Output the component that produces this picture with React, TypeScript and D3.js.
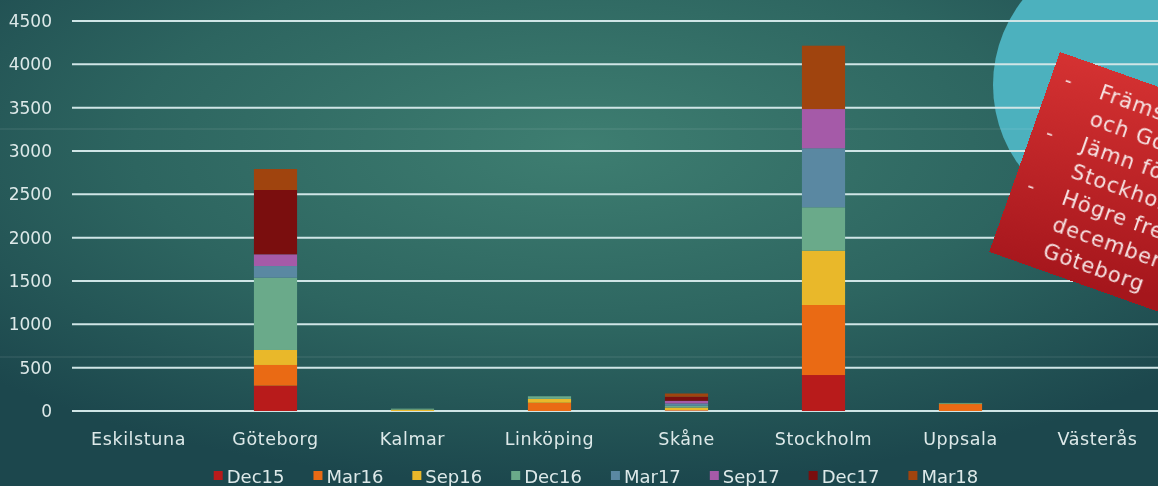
import React, { useEffect, useRef } from "react";
import * as d3 from "d3";

const categories = ["Eskilstuna", "Göteborg", "Kalmar", "Linköping", "Skåne", "Stockholm", "Uppsala", "Västerås"];
const seriesNames = ["Dec15", "Mar16", "Sep16", "Dec16", "Mar17", "Sep17", "Dec17", "Mar18"];
const dec15 = [0, 292, 0, 0, 5, 415, 0, 0];
const mar16 = [0, 239, 0, 95, 5, 808, 80, 0];
const sep16 = [0, 173, 15, 45, 30, 627, 5, 0];
const dec16 = [0, 834, 12, 30, 20, 500, 8, 0];
const mar17 = [0, 135, 0, 0, 27, 681, 0, 0];
const sep17 = [0, 135, 0, 0, 31, 453, 0, 0];
const dec17 = [0, 742, 0, 0, 46, 0, 0, 0];
const mar18 = [0, 242, 0, 0, 38, 731, 0, 0];
const seriesValues = [dec15, mar16, sep16, dec16, mar17, sep17, dec17, mar18];
const seriesColors = ["#b81b1b", "#ea6a14", "#e9b82a", "#6aaa8a", "#5a88a2", "#a55aa8", "#7a0e0e", "#a0440e"];
const yTicks = [0, 500, 1000, 1500, 2000, 2500, 3000, 3500, 4000, 4500];
const noteLines = [
  { bullet: true, text: "Främst Stockholm" },
  { bullet: false, text: "och Göteborg" },
  { bullet: true, text: "Jämn fördelning i" },
  { bullet: false, text: "Stockholm" },
  { bullet: true, text: "Högre frekvens" },
  { bullet: false, text: "december 2017 i" },
  { bullet: false, text: "Göteborg" },
];

const W = 1158;
const H = 486;
const FONT = "'DejaVu Sans', sans-serif";

export default function App() {
  const ref = useRef<SVGSVGElement | null>(null);

  useEffect(() => {
    const svg = d3.select(ref.current);
    svg.selectAll("*").remove();

    const defs = svg.append("defs");
    const bg = defs.append("radialGradient").attr("id", "bg").attr("cx", "50%").attr("cy", "30%").attr("r", "70%");
    bg.append("stop").attr("offset", "0%").attr("stop-color", "#3e7e71");
    bg.append("stop").attr("offset", "55%").attr("stop-color", "#2d6560");
    bg.append("stop").attr("offset", "100%").attr("stop-color", "#1c474d");
    const rg = defs.append("linearGradient").attr("id", "redbox").attr("x1", "0").attr("y1", "0").attr("x2", "0.3").attr("y2", "1");
    rg.append("stop").attr("offset", "0%").attr("stop-color", "#d53232");
    rg.append("stop").attr("offset", "100%").attr("stop-color", "#a5161c");

    svg.append("rect").attr("width", W).attr("height", H).attr("fill", "url(#bg)");

    // decorative circle
    svg.append("circle").attr("cx", 1130).attr("cy", 85).attr("r", 137).attr("fill", "#4cb1be");

    // faint slide lines
    [129, 357].forEach((yy) => {
      svg.append("line").attr("x1", 0).attr("x2", W).attr("y1", yy).attr("y2", yy)
        .attr("stroke", "rgba(255,255,255,0.13)").attr("stroke-width", 1);
    });

    const y = d3.scaleLinear().domain([0, 4500]).range([411, 21]);
    const x = d3.scaleBand<string>().domain(categories).range([70, 1166]).paddingInner(0.685).paddingOuter(0.3425);

    // gridlines
    const grid = svg.append("g");
    yTicks.forEach((t) => {
      grid.append("line").attr("x1", 72).attr("x2", W).attr("y1", y(t)).attr("y2", y(t))
        .attr("stroke", "#cfe5e6").attr("stroke-width", 2);
      grid.append("text").attr("x", 52).attr("y", y(t)).attr("dy", "0.36em").attr("text-anchor", "end")
        .attr("font-family", FONT).attr("font-size", 17).attr("fill", "#dde9e9").text(String(t));
    });

    // stacked bars
    const rows = categories.map((c, i) => {
      const r: any = { cat: c };
      seriesNames.forEach((s, j) => (r[s] = seriesValues[j][i]));
      return r;
    });
    const stack = d3.stack<any>().keys(seriesNames)(rows);
    stack.forEach((layer, j) => {
      svg.append("g").attr("fill", seriesColors[j]).selectAll("rect").data(layer).join("rect")
        .attr("x", (d: any) => x(d.data.cat) as number)
        .attr("width", x.bandwidth())
        .attr("y", (d: any) => y(d[1]))
        .attr("height", (d: any) => Math.max(0, y(d[0]) - y(d[1])));
    });

    // category labels
    categories.forEach((c) => {
      svg.append("text").attr("x", (x(c) as number) + x.bandwidth() / 2).attr("y", 445)
        .attr("text-anchor", "middle").attr("font-family", FONT).attr("font-size", 17.5)
        .attr("letter-spacing", 0.6).attr("fill", "#dde9e9").text(c);
    });

    // legend
    const lg = svg.append("g");
    let cx = 0;
    seriesNames.forEach((s, j) => {
      const g = lg.append("g").attr("transform", `translate(${cx},0)`);
      g.append("rect").attr("x", 0).attr("y", 471).attr("width", 9).attr("height", 9).attr("fill", seriesColors[j]);
      const t = g.append("text").attr("x", 13).attr("y", 483).attr("font-family", FONT).attr("font-size", 18)
        .attr("fill", "#dde9e9").text(s);
      const w = (t.node() as SVGTextElement).getComputedTextLength();
      cx += 13 + w + 29;
    });
    const totalW = cx - 29;
    lg.attr("transform", `translate(${(W - totalW) / 2 + 17},0)`);

    // red note box
    const box = svg.append("g").attr("transform", "translate(1060,52) rotate(19.5)");
    box.append("rect").attr("x", 0).attr("y", 0).attr("width", 330).attr("height", 212).attr("fill", "url(#redbox)");
    noteLines.forEach((ln, i) => {
      const yy = 24 + i * 28;
      if (ln.bullet) {
        box.append("text").attr("x", 14).attr("y", yy).attr("dy", "0.35em").attr("font-family", FONT)
          .attr("font-size", 20).attr("fill", "#f6e4e4").text("-");
      }
      box.append("text").attr("x", 51).attr("y", yy).attr("dy", "0.35em").attr("font-family", FONT)
        .attr("font-size", 21).attr("letter-spacing", 1).attr("fill", "#f6e4e4").text(ln.text);
    });
  }, []);

  return (
    <svg ref={ref} width={W} height={H} style={{ position: "fixed", left: 0, top: 0, display: "block" }} />
  );
}
